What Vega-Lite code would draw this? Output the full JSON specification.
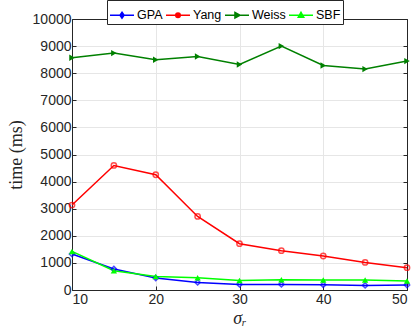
{
  "$schema": "https://vega.github.io/schema/vega-lite/v6.json",
  "autosize": "none",
  "width": 335,
  "height": 271,
  "padding": {"left": 72, "top": 19, "right": 8, "bottom": 43},
  "background": "white",
  "config": {
    "view": {"stroke": null},
    "font": "Liberation Sans",
    "axis": {
      "domainColor": "#262626",
      "domainWidth": 1,
      "tickColor": "#262626",
      "tickSize": -4,
      "labelColor": "#262626",
      "labelFont": "Liberation Sans",
      "labelFontSize": 14,
      "gridColor": "#e6e6e6",
      "gridWidth": 1,
      "titleColor": "#262626",
      "titleFont": "Liberation Serif",
      "titleFontWeight": "normal"
    }
  },
  "data": {
    "values": [
      {"s": 10, "t": 1328, "m": "GPA"}, {"s": 15, "t": 775, "m": "GPA"}, {"s": 20, "t": 443, "m": "GPA"}, {"s": 25, "t": 280, "m": "GPA"}, {"s": 30, "t": 207, "m": "GPA"}, {"s": 35, "t": 207, "m": "GPA"}, {"s": 40, "t": 196, "m": "GPA"}, {"s": 45, "t": 170, "m": "GPA"}, {"s": 50, "t": 184, "m": "GPA"},
      {"s": 10, "t": 3135, "m": "Yang"}, {"s": 15, "t": 4596, "m": "Yang"}, {"s": 20, "t": 4253, "m": "Yang"}, {"s": 25, "t": 2715, "m": "Yang"}, {"s": 30, "t": 1708, "m": "Yang"}, {"s": 35, "t": 1450, "m": "Yang"}, {"s": 40, "t": 1254, "m": "Yang"}, {"s": 45, "t": 1018, "m": "Yang"}, {"s": 50, "t": 823, "m": "Yang"},
      {"s": 10, "t": 8569, "m": "Weiss"}, {"s": 15, "t": 8742, "m": "Weiss"}, {"s": 20, "t": 8495, "m": "Weiss"}, {"s": 25, "t": 8617, "m": "Weiss"}, {"s": 30, "t": 8322, "m": "Weiss"}, {"s": 35, "t": 9000, "m": "Weiss"}, {"s": 40, "t": 8285, "m": "Weiss"}, {"s": 45, "t": 8152, "m": "Weiss"}, {"s": 50, "t": 8447, "m": "Weiss"},
      {"s": 10, "t": 1424, "m": "SBF"}, {"s": 15, "t": 712, "m": "SBF"}, {"s": 20, "t": 502, "m": "SBF"}, {"s": 25, "t": 454, "m": "SBF"}, {"s": 30, "t": 354, "m": "SBF"}, {"s": 35, "t": 380, "m": "SBF"}, {"s": 40, "t": 369, "m": "SBF"}, {"s": 45, "t": 369, "m": "SBF"}, {"s": 50, "t": 332, "m": "SBF"}
    ]
  },
  "layer": [
    {
      "mark": {"type": "line", "strokeWidth": 1.5},
      "encoding": {
        "x": {"field": "s", "type": "quantitative", "scale": {"domain": [10, 50], "nice": false, "zero": false},
              "axis": {"values": [10, 20, 30, 40, 50], "format": "d", "title": "σᵣ", "titleFontStyle": "italic", "titleFontSize": 18, "titlePadding": 3, "labelPadding": 6, "grid": true}},
        "y": {"field": "t", "type": "quantitative", "scale": {"domain": [0, 10000], "nice": false},
              "axis": {"values": [0, 1000, 2000, 3000, 4000, 5000, 6000, 7000, 8000, 9000, 10000], "format": "d", "title": "time (ms)", "titleFontSize": 18, "titlePadding": 7, "labelPadding": 5, "grid": true}},
        "color": {"field": "m", "type": "nominal",
                  "scale": {"domain": ["GPA", "Yang", "Weiss", "SBF"], "range": ["#0000ff", "#ff0000", "#008000", "#00ff00"]},
                  "legend": {
                    "title": null, "orient": "none", "legendX": 35, "legendY": -19, "direction": "horizontal",
                    "fillColor": "white", "strokeColor": "#262626", "padding": 2,
                    "symbolSize": 576, "symbolStrokeWidth": 1.5, "labelOffset": 2, "columnPadding": 0,
                    "labelFont": "Liberation Sans", "labelFontSize": 12.5, "labelColor": "#000000",
                    "encode": {"symbols": {"update": {
                      "shape": {"signal": "datum.value === 'GPA' ? 'M-1,0H1M0,-0.25L0.17,0L0,0.25L-0.17,0Z' : datum.value === 'Yang' ? 'M-1,0H1M-0.19,0A0.19,0.19 0 1,0 0.19,0A0.19,0.19 0 1,0 -0.19,0' : datum.value === 'Weiss' ? 'M-1,0H1M-0.17,-0.23L0.25,0L-0.17,0.23Z' : 'M-1,0H1M0,-0.25L0.23,0.17L-0.23,0.17Z'"},
                      "fill": {"signal": "datum.value === 'Weiss' ? '#008000' : datum.value === 'SBF' ? '#00ff00' : 'transparent'"}
                    }}}
                  }}
      }
    },
    {
      "transform": [{"filter": "datum.m === 'GPA' || datum.m === 'Yang'"}],
      "mark": {"type": "point", "filled": false, "strokeWidth": 1.5, "size": 28},
      "encoding": {
        "x": {"field": "s", "type": "quantitative", "axis": null},
        "y": {"field": "t", "type": "quantitative", "axis": null},
        "color": {"field": "m", "type": "nominal", "legend": null},
        "shape": {"field": "m", "type": "nominal", "scale": {"domain": ["GPA", "Yang"], "range": ["diamond", "circle"]}, "legend": null}
      }
    },
    {
      "transform": [{"filter": "datum.m === 'Weiss' || datum.m === 'SBF'"}],
      "mark": {"type": "point", "filled": true, "strokeWidth": 1, "size": 40, "opacity": 1},
      "encoding": {
        "x": {"field": "s", "type": "quantitative", "axis": null},
        "y": {"field": "t", "type": "quantitative", "axis": null},
        "color": {"field": "m", "type": "nominal", "legend": null},
        "shape": {"field": "m", "type": "nominal", "scale": {"domain": ["Weiss", "SBF"], "range": ["triangle-right", "triangle-up"]}, "legend": null}
      }
    },
    {
      "mark": {"type": "point", "opacity": 0},
      "encoding": {
        "x": {"field": "s", "type": "quantitative", "axis": {"orient": "top", "values": [10, 20, 30, 40, 50], "labels": false, "title": null, "grid": false}},
        "y": {"field": "t", "type": "quantitative", "axis": {"orient": "right", "values": [0, 1000, 2000, 3000, 4000, 5000, 6000, 7000, 8000, 9000, 10000], "labels": false, "title": null, "grid": false}}
      }
    }
  ],
  "resolve": {"axis": {"x": "independent", "y": "independent"}, "scale": {"shape": "independent"}}
}
